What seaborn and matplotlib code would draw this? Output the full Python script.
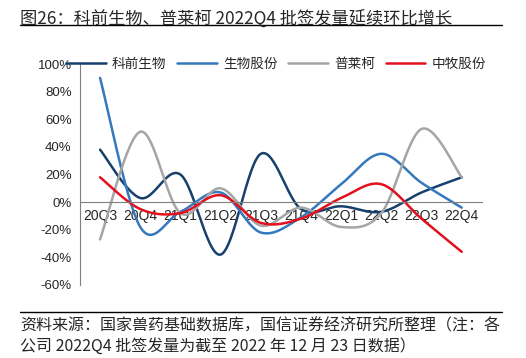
import numpy as np
import pandas as pd
import seaborn as sns
import matplotlib.pyplot as plt

quarters = ['20Q3', '20Q4', '21Q1', '21Q2', '21Q3', '21Q4', '22Q1', '22Q2', '22Q3', '22Q4']
kq = [38, 3, 20, -38, 35, -5, -3, -7, 7, 18]          # 科前生物
swgf = [90, -18, -7, 7, -22, -11, 13, 35, 14, -4]     # 生物股份
plk = [-27, 51, -8, 10, -17, -4, -18, -8, 53, 18]     # 普莱柯
zm = [18, -5, -8, 5, -15, -12, 3, 13, -12, -36]       # 中牧股份

names = ['科前生物', '生物股份', '普莱柯', '中牧股份']
colors = ['#17406D', '#3479BD', '#A5A5A5', '#E3101E']


def smooth(y, n=30):
    # excel style smoothed line (catmull-rom bezier)
    y = np.asarray(y, dtype=float)
    x = np.arange(len(y), dtype=float)
    px = np.concatenate([[x[0]], x, [x[-1]]])
    py = np.concatenate([[y[0]], y, [y[-1]]])
    xs, ys = [], []
    t = np.linspace(0, 1, n)
    for i in range(len(y) - 1):
        p0 = np.array([px[i], py[i]])
        p1 = np.array([px[i + 1], py[i + 1]])
        p2 = np.array([px[i + 2], py[i + 2]])
        p3 = np.array([px[i + 3], py[i + 3]])
        c1 = p1 + (p2 - p0) / 6
        c2 = p2 - (p3 - p1) / 6
        b = ((1 - t) ** 3)[:, None] * p1 + (3 * (1 - t) ** 2 * t)[:, None] * c1 \
            + (3 * (1 - t) * t ** 2)[:, None] * c2 + (t ** 3)[:, None] * p2
        xs.extend(b[:, 0])
        ys.extend(b[:, 1])
    return np.array(xs), np.array(ys)


frames = []
for name, vals in zip(names, [kq, swgf, plk, zm]):
    xs, ys = smooth(vals)
    frames.append(pd.DataFrame({'x': xs, 'y': ys, 'name': name}))
df = pd.concat(frames, ignore_index=True)

sns.set_style('white')
plt.rcParams['font.family'] = ['Liberation Sans', 'Noto Sans CJK SC']

fig = plt.figure(figsize=(5.26, 3.58), dpi=100)
ax = fig.add_axes([0.152, 0.204, 0.764, 0.617])

sns.lineplot(data=df, x='x', y='y', hue='name', palette=dict(zip(names, colors)),
             sort=False, estimator=None, units='name', linewidth=1.8, ax=ax, legend=False)

ax.set_xlim(-0.5, len(quarters) - 0.5)
ax.set_ylim(-60, 100)
ax.set_yticks(range(-60, 101, 20))
ax.set_yticklabels([f'{v}%' for v in range(-60, 101, 20)], fontsize=9.5)
ax.set_xticks(range(len(quarters)))
ax.set_xticklabels(quarters, fontsize=10)
ax.set_xticks(np.arange(-0.5, len(quarters), 1), minor=True)
ax.tick_params(axis='x', which='major', length=0, pad=5)
ax.tick_params(axis='x', which='minor', length=4, color='#808080', direction='out')
ax.tick_params(axis='y', length=4, color='#808080', direction='out', pad=2)
ax.set_xlabel('')
ax.set_ylabel('')

for s in ['top', 'right']:
    ax.spines[s].set_visible(False)
ax.spines['bottom'].set_position(('data', 0))
ax.spines['bottom'].set_color('#808080')
ax.spines['left'].set_color('#808080')
ax.spines['left'].set_bounds(-60, 100)

handles = [plt.Line2D([], [], color=c, lw=1.8) for c in colors]
fig.legend(handles, names, loc='center', bbox_to_anchor=(0.525, 0.822), ncol=4,
           frameon=False, handlelength=2.9, handletextpad=0.45, columnspacing=0.8,
           prop={'family': ['Noto Sans CJK SC'], 'size': 9.8})

cjk = ['Noto Sans CJK SC', 'DejaVu Sans']
fig.text(0.038, 0.948, '图26：科前生物、普莱柯 2022Q4 批签发量延续环比增长', fontsize=12.4,
         family=cjk, va='center', ha='left')
fig.add_artist(plt.Line2D([0.038, 0.955], [0.93, 0.93], color='black', lw=1))
fig.add_artist(plt.Line2D([0.038, 0.955], [0.128, 0.128], color='black', lw=1))
fig.text(0.038, 0.09, '资料来源：国家兽药基础数据库，国信证券经济研究所整理（注：各', fontsize=11.5,
         family=cjk, va='center', ha='left')
fig.text(0.038, 0.033, '公司 2022Q4 批签发量为截至 2022 年 12 月 23 日数据）', fontsize=11.5,
         family=cjk, va='center', ha='left')

fig.savefig('out.png', dpi=100)
